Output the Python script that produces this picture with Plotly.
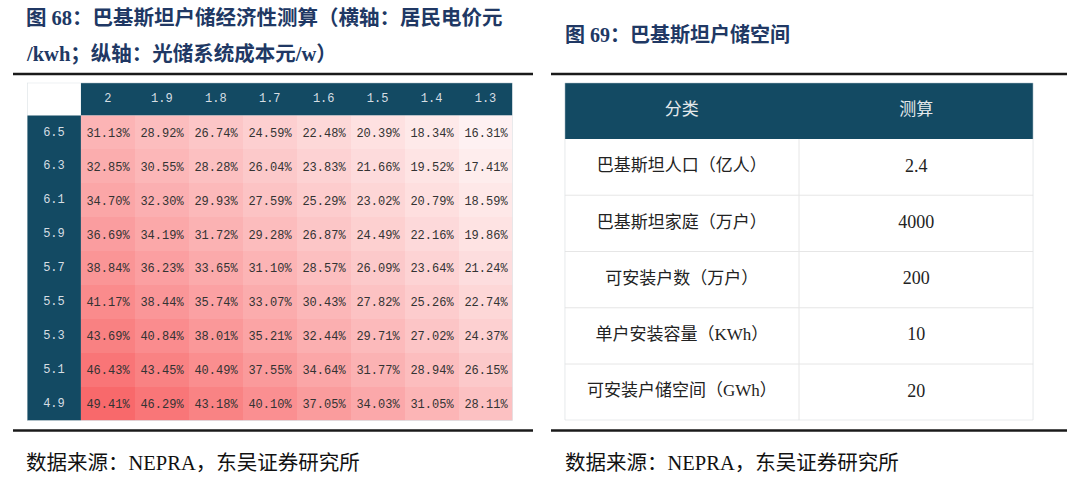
import plotly.graph_objects as go

W, H = 1080, 482

# ---------------- data ----------------
price_ticks = [2, 1.9, 1.8, 1.7, 1.6, 1.5, 1.4, 1.3]          # 居民电价 元/kwh (columns)
cost_ticks = [6.5, 6.3, 6.1, 5.9, 5.7, 5.5, 5.3, 5.1, 4.9]   # 光储系统成本 元/w (rows)
irr_6_5 = [31.13, 28.92, 26.74, 24.59, 22.48, 20.39, 18.34, 16.31]
irr_6_3 = [32.85, 30.55, 28.28, 26.04, 23.83, 21.66, 19.52, 17.41]
irr_6_1 = [34.70, 32.30, 29.93, 27.59, 25.29, 23.02, 20.79, 18.59]
irr_5_9 = [36.69, 34.19, 31.72, 29.28, 26.87, 24.49, 22.16, 19.86]
irr_5_7 = [38.84, 36.23, 33.65, 31.10, 28.57, 26.09, 23.64, 21.24]
irr_5_5 = [41.17, 38.44, 35.74, 33.07, 30.43, 27.82, 25.26, 22.74]
irr_5_3 = [43.69, 40.84, 38.01, 35.21, 32.44, 29.71, 27.02, 24.37]
irr_5_1 = [46.43, 43.45, 40.49, 37.55, 34.64, 31.77, 28.94, 26.15]
irr_4_9 = [49.41, 46.29, 43.18, 40.10, 37.05, 34.03, 31.05, 28.11]
irr = [irr_6_5, irr_6_3, irr_6_1, irr_5_9, irr_5_7, irr_5_5, irr_5_3, irr_5_1, irr_4_9]

space_headers = ["分类", "测算"]
space_items = ["巴基斯坦人口（亿人）", "巴基斯坦家庭（万户）", "可安装户数（万户）",
               "单户安装容量（KWh）", "可安装户储空间（GWh）"]
space_values = ["2.4", "4000", "200", "10", "20"]

title_left_1 = "图 68：巴基斯坦户储经济性测算（横轴：居民电价元"
title_left_2 = "/kwh；纵轴：光储系统成本元/w）"
title_right = "图 69：巴基斯坦户储空间"
source_text = "数据来源：NEPRA，东吴证券研究所"

# ---------------- styles ----------------
HEAD = "#134a63"
TITLE_C = "#203864"
SERIF = "Liberation Serif, 'Noto Sans CJK SC', serif"
MONO = "Liberation Mono, 'DejaVu Sans Mono', monospace"

def px(x):
    return x / W

def py(y):
    return 1 - y / H

fig = go.Figure()

ncol = len(price_ticks)
nrow = len(cost_ticks)
cols = list(range(ncol))
rows = list(range(nrow))

# heatmap body
fig.add_trace(go.Heatmap(
    z=irr, x=cols, y=rows,
    colorscale=[[0, "#FFFFFF"], [1, "#F8696B"]], zmin=13.0, zmax=49.41,
    showscale=False,
    text=[[f"{v:.2f}%" for v in r] for r in irr], texttemplate="%{text}",
    textfont=dict(family=MONO, size=12, color="#333333"),
    hoverinfo="skip", xaxis="x", yaxis="y",
))

# header labels
fig.add_trace(go.Scatter(
    x=cols, y=[-0.985] * ncol, mode="text", text=[str(v) for v in price_ticks],
    textfont=dict(family=MONO, size=12, color="#d6dee3"), hoverinfo="skip",
    xaxis="x", yaxis="y", showlegend=False,
))
fig.add_trace(go.Scatter(
    x=[-1] * nrow, y=rows, mode="text", text=[str(v) for v in cost_ticks],
    textfont=dict(family=MONO, size=12, color="#d6dee3"), hoverinfo="skip",
    xaxis="x", yaxis="y", showlegend=False,
))

# right table text
fig.add_trace(go.Scatter(
    x=[0.5, 1.5], y=[-1, -1], mode="text", text=space_headers,
    textfont=dict(family=SERIF, size=17, color="#e4e9ec"), hoverinfo="skip",
    xaxis="x2", yaxis="y2", showlegend=False,
))
fig.add_trace(go.Scatter(
    x=[0.5] * len(space_items), y=list(range(len(space_items))), mode="text",
    text=space_items, textfont=dict(family=SERIF, size=17, color="#222222"),
    hoverinfo="skip", xaxis="x2", yaxis="y2", showlegend=False,
))
fig.add_trace(go.Scatter(
    x=[1.5] * len(space_values), y=list(range(len(space_values))), mode="text",
    text=space_values, textfont=dict(family=SERIF, size=18, color="#222222"),
    hoverinfo="skip", xaxis="x2", yaxis="y2", showlegend=False,
))

shapes = []
HTOP = -1.47
# left header row + column
shapes.append(dict(type="rect", xref="x", yref="y", x0=-0.5, x1=ncol - 0.5, y0=HTOP, y1=-0.5,
                   fillcolor=HEAD, line=dict(width=0), layer="below"))
shapes.append(dict(type="rect", xref="x", yref="y", x0=-1.5, x1=-0.5, y0=-0.5, y1=nrow - 0.5,
                   fillcolor=HEAD, line=dict(width=0), layer="below"))
shapes.append(dict(type="rect", xref="x", yref="y", x0=-1.5, x1=ncol - 0.5, y0=HTOP, y1=nrow - 0.5,
                   fillcolor="rgba(0,0,0,0)", line=dict(width=1, color="#d3dbe0"), layer="above"))

# right table
nr = len(space_items)
shapes.append(dict(type="rect", xref="x2", yref="y2", x0=0, x1=2, y0=-1.5, y1=-0.5,
                   fillcolor=HEAD, line=dict(width=0), layer="below"))
for k in range(nr):
    shapes.append(dict(type="line", xref="x2", yref="y2", x0=0, x1=2, y0=k + 0.5, y1=k + 0.5,
                       line=dict(width=1, color="#e6e6e6"), layer="below"))
for xv in [0, 1, 2]:
    shapes.append(dict(type="line", xref="x2", yref="y2", x0=xv, x1=xv, y0=-0.5, y1=nr - 0.5,
                       line=dict(width=1, color="#e6e6e6"), layer="below"))
shapes.append(dict(type="rect", xref="x2", yref="y2", x0=0, x1=2, y0=-1.5, y1=nr - 0.5,
                   fillcolor="rgba(0,0,0,0)", line=dict(width=1, color="#d9e0e4"), layer="above"))

# separator rules
for (x0, x1) in [(13, 533), (551, 1067)]:
    for yy in [74, 430.5]:
        shapes.append(dict(type="line", xref="paper", yref="paper", x0=px(x0), x1=px(x1),
                           y0=py(yy), y1=py(yy), line=dict(width=2.5, color="#1a1a1a")))

annotations = [
    dict(text=f"<b>{title_left_1}</b>", x=px(24), y=py(18), xref="paper", yref="paper",
         xanchor="left", yanchor="middle", showarrow=False,
         font=dict(family=SERIF, size=20.5, color=TITLE_C)),
    dict(text=f"<b>{title_left_2}</b>", x=px(24), y=py(53), xref="paper", yref="paper",
         xanchor="left", yanchor="middle", showarrow=False,
         font=dict(family=SERIF, size=20.5, color=TITLE_C)),
    dict(text=f"<b>{title_right}</b>", x=px(563), y=py(35), xref="paper", yref="paper",
         xanchor="left", yanchor="middle", showarrow=False,
         font=dict(family=SERIF, size=20, color=TITLE_C)),
    dict(text=source_text, x=px(24), y=py(463), xref="paper", yref="paper",
         xanchor="left", yanchor="middle", showarrow=False,
         font=dict(family=SERIF, size=20.5, color="#111111")),
    dict(text=source_text, x=px(563), y=py(463), xref="paper", yref="paper",
         xanchor="left", yanchor="middle", showarrow=False,
         font=dict(family=SERIF, size=20.5, color="#111111")),
]

hidden = dict(visible=False, fixedrange=True, showgrid=False, zeroline=False)

fig.update_layout(
    width=W, height=H,
    margin=dict(l=0, r=0, t=0, b=0),
    paper_bgcolor="white", plot_bgcolor="white",
    showlegend=False,
    xaxis=dict(domain=[px(27), px(512.5)], range=[-1.5, ncol - 0.5], anchor="y", **hidden),
    yaxis=dict(domain=[py(420.7), py(82.7)], range=[nrow - 0.5, HTOP], anchor="x", **hidden),
    xaxis2=dict(domain=[px(564.7), px(1033.3)], range=[0, 2], anchor="y2", **hidden),
    yaxis2=dict(domain=[py(420.3), py(82.7)], range=[nr - 0.5, -1.5], anchor="x2", **hidden),
    shapes=shapes,
    annotations=annotations,
)

fig.write_html("out.html")
